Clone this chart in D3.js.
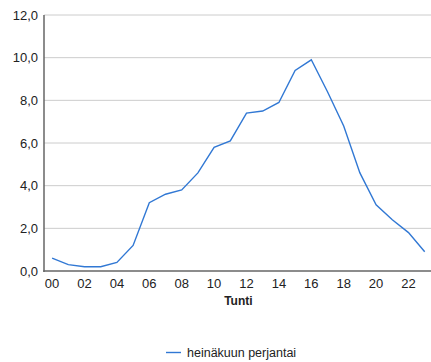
<!DOCTYPE html>
<html>
<head>
<meta charset="utf-8">
<script src="https://cdn.jsdelivr.net/npm/d3@7"></script>
<style>
  html, body { margin: 0; padding: 0; background: #fff; }
  svg { display: block; font-family: "Liberation Sans", Arial, sans-serif; }
</style>
</head>
<body>
<svg id="chart" width="431" height="362"></svg>
<script>
// Hours of the day and the hourly values for a July Friday
const hours = ["00","01","02","03","04","05","06","07","08","09","10","11",
               "12","13","14","15","16","17","18","19","20","21","22","23"];
const values = [0.6, 0.3, 0.2, 0.2, 0.4, 1.2, 3.2, 3.6, 3.8, 4.6, 5.8, 6.1,
                7.4, 7.5, 7.9, 9.4, 9.9, 8.4, 6.8, 4.6, 3.1, 2.4, 1.8, 0.9];
const yTicks = [0, 2, 4, 6, 8, 10, 12];
const xTickLabels = ["00","02","04","06","08","10","12","14","16","18","20","22"];
const seriesName = "heinäkuun perjantai";
const xTitle = "Tunti";

(function draw() {
  const svg = d3.select("#chart");
  const plotLeft = 44, plotRight = 432.8, plotTop = 15, plotBottom = 271;

  const x = d3.scaleBand().domain(hours).range([plotLeft, plotRight]);
  const y = d3.scaleLinear().domain([0, 12]).range([plotBottom, plotTop]);
  const fmt = v => d3.format(".1f")(v).replace(".", ",");

  // horizontal gridlines
  svg.append("g")
    .selectAll("line")
    .data(yTicks.filter(d => d > 0))
    .join("line")
    .attr("x1", plotLeft).attr("x2", 431)
    .attr("y1", d => y(d)).attr("y2", d => y(d))
    .attr("stroke", "#cccccc").attr("stroke-width", 1);

  // y axis
  const yAxis = svg.append("g")
    .attr("transform", `translate(${plotLeft},0)`)
    .call(d3.axisLeft(y).tickValues(yTicks).tickFormat(fmt).tickSize(0).tickPadding(6));
  yAxis.select(".domain").remove();
  yAxis.selectAll("text").attr("font-size", 13).attr("fill", "#222");
  svg.append("line")
    .attr("x1", plotLeft).attr("x2", plotLeft)
    .attr("y1", plotTop).attr("y2", plotBottom + 1)
    .attr("stroke", "#666").attr("stroke-width", 1.5);

  // x axis
  const xAxis = svg.append("g")
    .attr("transform", `translate(0,${plotBottom})`)
    .call(d3.axisBottom(x).tickValues(xTickLabels).tickSize(0).tickPadding(8));
  xAxis.select(".domain").remove();
  xAxis.selectAll("text").attr("font-size", 13).attr("fill", "#222");
  svg.append("line")
    .attr("x1", plotLeft - 0.75).attr("x2", 431)
    .attr("y1", plotBottom).attr("y2", plotBottom)
    .attr("stroke", "#666").attr("stroke-width", 1.5);

  svg.append("text")
    .attr("x", (plotLeft + plotRight) / 2).attr("y", 305)
    .attr("text-anchor", "middle")
    .attr("font-size", 12).attr("font-weight", "bold").attr("fill", "#222")
    .text(xTitle);

  // data line
  const line = d3.line()
    .x((d, i) => x(hours[i]) + x.bandwidth() / 2)
    .y(d => y(d));
  svg.append("path")
    .datum(values)
    .attr("d", line)
    .attr("fill", "none")
    .attr("stroke", "#3178d4")
    .attr("stroke-width", 1.4);

  // legend
  const lg = svg.append("g").attr("transform", "translate(166,352.5)");
  lg.append("line").attr("x1", 0).attr("x2", 15).attr("y1", 0).attr("y2", 0)
    .attr("stroke", "#3178d4").attr("stroke-width", 1.4);
  lg.append("text").attr("x", 21).attr("y", 4.5)
    .attr("font-size", 12.5).attr("fill", "#222").text(seriesName);
})();
</script>
</body>
</html>
